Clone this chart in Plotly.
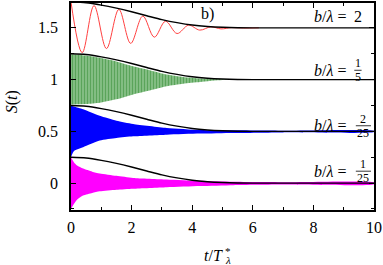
import plotly.graph_objects as go

# time grid of the black envelope curves (same shape in every panel)
env_t = [0, 0.5, 1.0, 1.5, 2.0, 2.5, 3.0, 3.5, 4.0, 4.5, 5.0, 5.5, 6.0, 10]
env_d = [0.25, 0.243, 0.22, 0.19, 0.155, 0.117, 0.08, 0.05, 0.027, 0.013, 0.005, 0.001, 0.0, 0.0]
offsets = [1.5, 1.0, 0.5, 0.0]

# b/lambda = 2 : slow oscillation (extrema)
red_t = [0, 0.37, 0.76, 1.17, 1.58, 1.97, 2.37, 2.75, 3.12, 3.5, 3.88, 4.25, 4.62, 4.95, 5.3, 5.7, 6.2]
red_s = [1.75, 1.26, 1.715, 1.30, 1.678, 1.35, 1.614, 1.41, 1.564, 1.445, 1.526, 1.478, 1.51, 1.49, 1.502, 1.498, 1.5]

# b/lambda = 1/5 : fast oscillation band
green_t = [0, 0.5, 0.95, 1.5, 2.05, 2.6, 3.16, 3.7, 4.26, 5.0, 6.0, 10]
green_hi = [1.245, 1.232, 1.21, 1.175, 1.128, 1.09, 1.048, 1.025, 1.01, 1.004, 1.002, 1.001]
green_lo = [0.76, 0.765, 0.777, 0.81, 0.857, 0.895, 0.936, 0.96, 0.977, 0.995, 0.998, 0.999]

# b/lambda = 2/25
blue_t = [0, 0.1, 0.4, 0.95, 1.5, 2.05, 3.16, 4.26, 5.36, 7, 10]
blue_hi = [0.75, 0.74, 0.713, 0.65, 0.602, 0.571, 0.533, 0.514, 0.51, 0.506, 0.505]
blue_lo = [0.25, 0.31, 0.347, 0.411, 0.436, 0.452, 0.468, 0.478, 0.484, 0.49, 0.493]

# b/lambda = 1/25
mag_t = [0, 0.1, 0.2, 0.4, 0.7, 0.95, 1.5, 2.05, 3.16, 4.26, 5.36, 7, 10]
mag_hi = [0.25, 0.2, 0.17, 0.14, 0.11, 0.093, 0.07, 0.05, 0.035, 0.022, 0.012, 0.008, 0.006]
mag_lo = [-0.25, -0.2, -0.16, -0.12, -0.095, -0.08, -0.065, -0.055, -0.04, -0.028, -0.02, -0.014, -0.01]

SERIF = "Liberation Serif"

fig = go.Figure()


def band(t, hi, lo, **kw):
    return go.Scatter(
        x=t + t[::-1],
        y=hi + lo[::-1],
        mode="lines",
        line=dict(width=0, shape="spline", smoothing=0.6),
        fill="toself",
        hoverinfo="skip",
        showlegend=False,
        **kw,
    )


fig.add_trace(band(mag_t, mag_hi, mag_lo, fillcolor="#ff00ff"))
fig.add_trace(band(blue_t, blue_hi, blue_lo, fillcolor="#0000ff"))
fig.add_trace(band(green_t, green_hi, green_lo, fillcolor="rgba(0,0,0,0)",
                   fillpattern=dict(shape="|", fgcolor="#006e00", bgcolor="rgba(40,150,40,0.35)",
                                    size=3, solidity=0.7)))

fig.add_trace(go.Scatter(
    x=red_t, y=red_s, mode="lines",
    line=dict(color="#ff4040", width=1, shape="spline", smoothing=1.0),
    showlegend=False,
))

for off in offsets:
    fig.add_trace(go.Scatter(
        x=env_t, y=[off + d for d in env_d], mode="lines",
        line=dict(color="black", width=1.4, shape="spline", smoothing=0.8),
        showlegend=False,
    ))

axis_common = dict(
    showline=True, linecolor="black", linewidth=1.5, mirror="ticks",
    ticks="inside", ticklen=5, tickwidth=1, tickcolor="black",
    showgrid=False, zeroline=False,
    tickfont=dict(family=SERIF, size=16, color="black"),
)

fig.update_layout(
    width=383, height=265,
    margin=dict(l=71, r=9, t=1, b=55),
    plot_bgcolor="white", paper_bgcolor="white",
    xaxis=dict(range=[0, 10], dtick=2, ticklabelstandoff=2,
               minor=dict(dtick=1, ticklen=3, ticks="inside", tickcolor="black"),
               **axis_common),
    yaxis=dict(range=[-0.26, 1.74], dtick=0.5, tickvals=[0, 0.5, 1, 1.5],
               ticktext=["0", "0.5", "1", "1.5"], ticklabelstandoff=8,
               minor=dict(dtick=0.25, ticklen=3, ticks="inside", tickcolor="black"),
               **axis_common),
    font=dict(family=SERIF, size=16, color="black"),
)

lab_font = dict(family=SERIF, size=16, color="black")
frac_font = dict(family=SERIF, size=12, color="black")

# "b/lambda =" labels
for yv in [1.605, 1.09, 0.554, 0.115]:
    fig.add_annotation(x=9.15, y=yv, xref="x", yref="y", text="<i>b</i>/<i>λ</i> =",
                       showarrow=False, xanchor="right", yanchor="middle", font=lab_font)
fig.add_annotation(x=9.48, y=1.605, xref="x", yref="y", text="2",
                   showarrow=False, xanchor="center", yanchor="middle", font=lab_font)

fractions = [("1", "5", 9.47, 1.09, 0.12), ("2", "25", 9.65, 0.554, 0.25), ("1", "25", 9.65, 0.115, 0.25)]
for num, den, xc, yb, hw in fractions:
    fig.add_annotation(x=xc, y=yb, xref="x", yref="y", text=num, showarrow=False,
                       xanchor="center", yanchor="middle", yshift=7, font=frac_font)
    fig.add_annotation(x=xc, y=yb, xref="x", yref="y", text=den, showarrow=False,
                       xanchor="center", yanchor="middle", yshift=-7, font=frac_font)
    fig.add_shape(type="line", xref="x", yref="y", x0=xc - hw, x1=xc + hw, y0=yb, y1=yb,
                  line=dict(color="black", width=0.8))

fig.add_annotation(x=4.5, y=1.63, xref="x", yref="y", text="b)", showarrow=False,
                   xanchor="center", yanchor="middle", font=lab_font)

# axis titles
fig.add_annotation(x=-0.195, y=0.525, xref="paper", yref="paper", text="<i>S</i>(<i>t</i>)",
                   textangle=-90, showarrow=False, xanchor="center", yanchor="middle",
                   font=lab_font)
fig.add_annotation(x=0.508, y=-0.22, xref="paper", yref="paper",
                   text="<i>t</i>/<i>T</i>", showarrow=False,
                   xanchor="right", yanchor="middle", font=lab_font)
fig.add_annotation(x=0.503, y=-0.243, xref="paper", yref="paper", text="<i>λ</i>",
                   showarrow=False, xanchor="left", yanchor="middle",
                   font=dict(family=SERIF, size=11, color="black"))
fig.add_annotation(x=0.503, y=-0.198, xref="paper", yref="paper", text="*",
                   showarrow=False, xanchor="left", yanchor="middle",
                   font=dict(family=SERIF, size=11, color="black"))

fig.write_html("out.html", config={"displayModeBar": False},
               post_script="document.body.style.margin='0';")
